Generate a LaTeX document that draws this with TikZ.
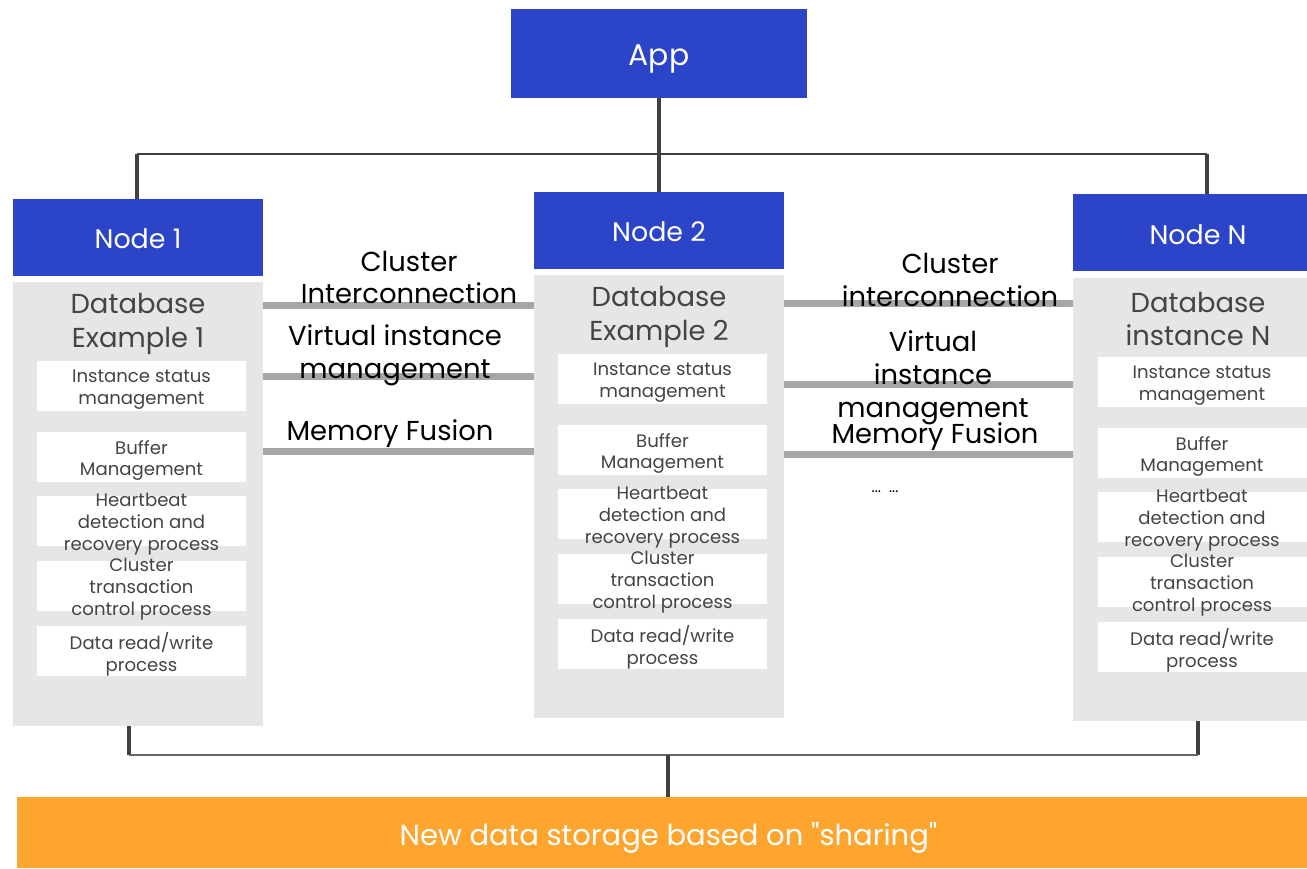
\documentclass[tikz,border=0pt]{standalone}
\usepackage{fontspec}
\setmainfont{Poppins}
\newfontfamily\qfont{Poppins}[Ligatures=TeXOff]
\definecolor{cblue}{HTML}{2C45C8}
\definecolor{cgray}{HTML}{E7E5E6}
\definecolor{clink}{HTML}{A6A6A6}
\definecolor{corange}{HTML}{FDA52E}
\definecolor{cline}{HTML}{404040}
\definecolor{ctext}{HTML}{444444}
\begin{document}
\begin{tikzpicture}[x=0.02cm,y=-0.02cm,
  blk/.style 2 args={minimum width=#1*0.02cm, minimum height=#2*0.02cm, inner sep=0pt, outer sep=0pt},
  bluebox/.style={fill=cblue},
  btext/.style={text=white, inner sep=0pt, anchor=base, font=\fontsize{15.3pt}{18pt}\selectfont},
  graybox/.style={fill=cgray},
  dbtext/.style={text=ctext, align=center, inner sep=0pt, font=\fontsize{15.6pt}{19.3pt}\selectfont},
  wbox/.style={fill=white, blk={209}{50}},
  wtext/.style={text=ctext, align=center, inner sep=0pt, yshift=-2pt, font=\fontsize{10.3pt}{12.5pt}\selectfont},
  lab/.style={text=black, align=center, inner sep=0pt, font=\fontsize{15.6pt}{18.7pt}\selectfont},
  tree/.style={draw=cline, line width=2.2pt},
  treeh/.style={draw=cline, line width=1.5pt},
  link/.style={draw=clink, line width=0.14cm}
]
\useasboundingbox (0,0) rectangle (1307,868);
% boxes
\node[bluebox, blk={296}{89}] (app) at (659,53.5) {};
\node[bluebox, blk={250}{77}] (n1) at (138,237.5) {};
\node[bluebox, blk={250}{77}] (n2) at (659,230.5) {};
\node[bluebox, blk={234}{77}] (nN) at (1190,232.5) {};
\node[btext, font=\fontsize{17pt}{20pt}\selectfont] (appt) at (659,66) {App};
\node[btext] (n1t) at (138,248) {Node 1};
\node[btext] (n2t) at (659,241) {Node 2};
\node[btext] (nNt) at (1198,244) {Node N};
\node[graybox, blk={250}{444}] (g1) at (138,504) {};
\node[graybox, blk={250}{443}] (g2) at (659,496.5) {};
\node[graybox, blk={234}{443}] (gN) at (1190,499.5) {};
\node[fill=corange, blk={1290}{71}] (st) at (662,832.5) {};
\node[btext, font=\fontsize{16.5pt}{19pt}\selectfont] (stt) at (668.5,845) {New data storage based on {\qfont"}sharing{\qfont"}};
% tree lines
\coordinate (t1) at (137,154);
\coordinate (tN) at (1207,154);
\draw[tree] (app.south) -- (n2.north);
\draw[treeh] (t1) -- (tN);
\draw[tree] (t1) -- (t1 |- n1.north);
\draw[tree] (tN) -- (tN |- nN.north);
\coordinate (b1) at (129,755);
\coordinate (bN) at (1198,755);
\coordinate (bm) at (668,755);
\draw[tree] (b1 |- g1.south) -- (b1);
\draw[tree] (bN |- gN.south) -- (bN);
\draw[treeh, draw=cline!80] (b1) -- (bN);
\draw[tree] (bm) -- (bm |- st.north);
% database titles
\node[dbtext] (db1) at (138,324) {Database\\Example 1};
\node[dbtext] (db2) at (659,317) {Database\\Example 2};
\node[dbtext] (dbN) at (1198,319) {Database\\instance N};
% white boxes
\foreach \nm/\x/\dy in {a/141.5/0, b/662.5/-7, c/1202/-4}{
  \node[wbox] (\nm1) at (\x,386+\dy) {};
  \node[wbox] (\nm2) at (\x,457+\dy) {};
  \node[wbox] (\nm3) at (\x,521+\dy) {};
  \node[wbox] (\nm4) at (\x,586+\dy) {};
  \node[wbox] (\nm5) at (\x,651+\dy) {};
  \node[wtext] (\nm1t) at (\nm1.center) {Instance status\\management};
  \node[wtext] (\nm2t) at (\nm2.center) {Buffer\\Management};
  \node[wtext] (\nm3t) at (\nm3.center) {Heartbeat\\detection and\\recovery process};
  \node[wtext] (\nm4t) at (\nm4.center) {Cluster\\transaction\\control process};
  \node[wtext] (\nm5t) at (\nm5.center) {Data read/write\\process};
}
% links
\coordinate (l1) at (0,305);
\coordinate (l2) at (0,376);
\coordinate (l3) at (0,451);
\coordinate (r1) at (0,303);
\coordinate (r2) at (0,384);
\coordinate (r3) at (0,454);
\draw[link] (g1.east |- l1) -- (g2.west |- l1);
\draw[link] (g1.east |- l2) -- (g2.west |- l2);
\draw[link] (g1.east |- l3) -- (g2.west |- l3);
\draw[link] (g2.east |- r1) -- (gN.west |- r1);
\draw[link] (g2.east |- r2) -- (gN.west |- r2);
\draw[link] (g2.east |- r3) -- (gN.west |- r3);
% link labels
\node[lab] (la1) at (409,277.5) {Cluster\\Interconnection};
\node[lab] (la2) at (395,355) {Virtual instance\\management};
\node[lab] (la3) at (390,434) {Memory Fusion};
\node[lab] (ra1) at (950,280) {Cluster\\interconnection};
\node[lab] (ra2) at (933,378) {Virtual\\instance\\management};
\node[lab] (ra3) at (935,437) {Memory Fusion};
\node[text=black, inner sep=0pt, font=\fontsize{8.5pt}{10pt}\selectfont] (dots) at (885,492) {...\ \ ...};
\end{tikzpicture}
\end{document}
